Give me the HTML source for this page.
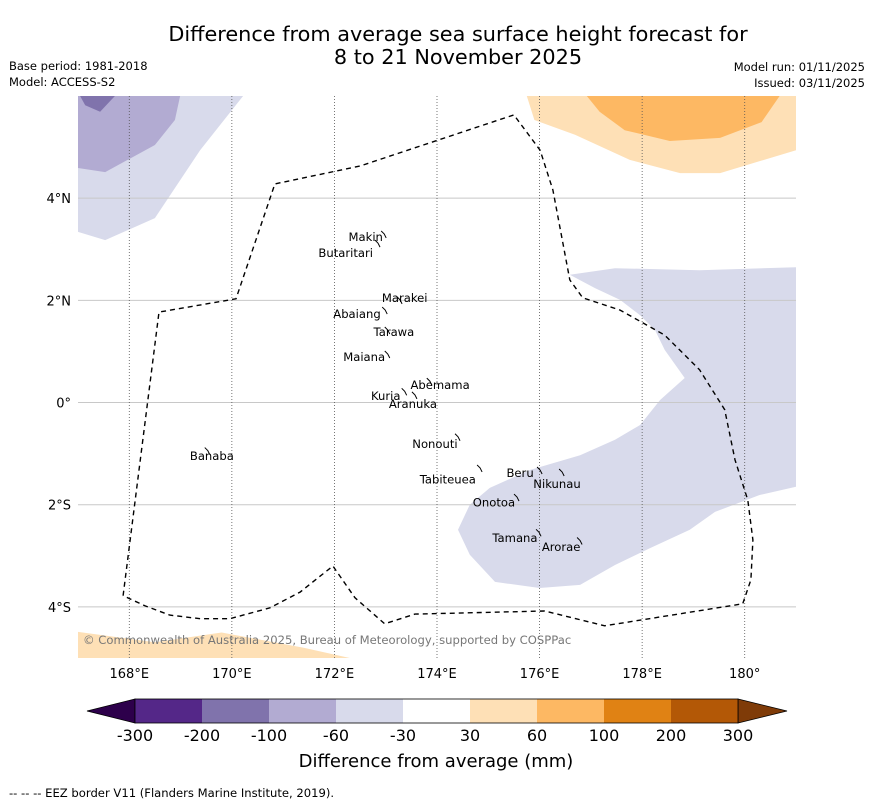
<!DOCTYPE html>
<html><head><meta charset="utf-8"><style>
body{margin:0;background:#fff;font-family:"Liberation Sans","DejaVu Sans",sans-serif}
svg text{font-family:"DejaVu Sans","Liberation Sans",sans-serif}
</style></head><body>
<svg id="chart" width="873" height="804" viewBox="0 0 873 804" xmlns="http://www.w3.org/2000/svg">
<text x="458" y="41" font-size="20.8" text-anchor="middle">Difference from average sea surface height forecast for</text>
<text x="458" y="64" font-size="20.8" text-anchor="middle">8 to 21 November 2025</text>
<text x="9" y="70" font-size="11.5">Base period: 1981-2018</text>
<text x="9" y="86" font-size="11.5">Model: ACCESS-S2</text>
<text x="865" y="71" font-size="11.5" text-anchor="end">Model run: 01/11/2025</text>
<text x="865" y="87" font-size="11.5" text-anchor="end">Issued: 03/11/2025</text>
<g id="map"></g>
<g id="cbar"></g>
<text x="436" y="767" font-size="18" text-anchor="middle">Difference from average (mm)</text>
<text x="9" y="797" font-size="11.6">--  --  -- EEZ border V11 (Flanders Marine Institute, 2019).</text>
</svg>
<script>
const lonTicks=[168,170,172,174,176,178,180];
const lonLabels=["168°E","170°E","172°E","174°E","176°E","178°E","180°"];
const latTicks=[4,2,0,-2,-4];
const latLabels=["4°N","2°N","0°","2°S","4°S"];
const levels=[-300,-200,-100,-60,-30,30,60,100,200,300];
const levelColors=["#542788","#8073ac","#b2abd2","#d8daeb","#ffffff","#fee0b6","#fdb863","#e08214","#b35806"];
const extendColors=["#2d004b","#7f3b08"];
const contourLevels=["-60..-30","-100..-60","-200..-100","30..60","60..100","-60..-30","30..60"];
const contourColors=["#d8daeb","#b2abd2","#8073ac","#fee0b6","#fdb863","#d8daeb","#fee0b6"];
const contourTL1=[[167,6],[170.22,6],[169.38,4.94],[168.5,3.61],[167.53,3.18],[167,3.34]];
const contourTL2=[[167,6],[168.99,6],[168.89,5.53],[168.5,5.04],[167.53,4.51],[167,4.59]];
const contourTL3=[[167.04,6],[167.72,6],[167.43,5.69],[167.14,5.82]];
const contourTR1=[[175.75,6],[181,6],[181,4.94],[179.52,4.49],[178.74,4.49],[177.76,4.75],[176.69,5.24],[175.9,5.53]];
const contourTR2=[[176.92,6],[180.68,6],[180.33,5.49],[179.52,5.18],[178.54,5.12],[177.66,5.33],[177.17,5.69]];
const contourR=[[176.59,2.5],[177.47,2.63],[179.12,2.59],[181,2.65],[181,-1.65],[180.29,-1.81],[179.42,-2.14],[178.93,-2.49],[178.15,-2.85],[177.47,-3.18],[176.79,-3.57],[176,-3.63],[175.13,-3.51],[174.64,-2.98],[174.41,-2.49],[174.64,-2],[175.03,-1.67],[175.81,-1.32],[176.79,-1.03],[177.47,-0.73],[177.96,-0.44],[178.35,0.05],[178.83,0.48],[178.44,1.03],[178.25,1.42],[177.96,1.71],[177.57,2.01],[177.08,2.24]];
const contourBL=[[167,-4.49],[168.5,-4.69],[169.8,-4.5],[171.4,-4.8],[172.3,-5],[167,-5]];
const eez=[[167.88,-3.78],[168.58,1.77],[170.08,2.03],[170.84,4.28],[172.5,4.63],[175.5,5.63],[176.01,4.94],[176.26,4.16],[176.59,2.4],[176.84,2.05],[177.57,1.81],[178.44,1.32],[179.12,0.64],[179.61,-0.14],[179.81,-1.12],[180.06,-1.91],[180.16,-2.69],[180.12,-3.47],[179.96,-3.94],[177.27,-4.37],[176.1,-4.08],[173.57,-4.14],[172.98,-4.33],[172.4,-3.82],[171.97,-3.2],[171.33,-3.71],[170.74,-4.02],[169.96,-4.23],[169.38,-4.23],[168.79,-4.16],[168.31,-3.98],[167.88,-3.78]];
const islandNames=["Makin","Butaritari","Marakei","Abaiang","Tarawa","Maiana","Abemama","Kuria","Aranuka","Nonouti","Tabiteuea","Beru","Nikunau","Onotoa","Tamana","Arorae","Banaba"];
const islandLon=[172.61,172.22,173.37,172.44,173.16,172.58,174.06,173.0,173.53,173.96,174.21,175.62,176.34,175.11,175.52,176.42,169.61];
const islandLat=[3.24,2.93,2.05,1.73,1.38,0.89,0.34,0.13,-0.03,-0.81,-1.51,-1.38,-1.59,-1.96,-2.65,-2.83,-1.05];
const coastLon=[172.97,172.85,173.28,172.99,173.04,173.04,173.86,173.37,173.57,174.41,174.84,176.01,176.44,175.56,175.99,176.79,169.53];
const coastLat=[3.30,3.12,2.01,1.81,1.42,0.95,0.42,0.22,0.15,-0.67,-1.28,-1.32,-1.36,-1.85,-2.54,-2.70,-0.94];

const NS="http://www.w3.org/2000/svg";
const X0=78,X1=796,Y0=96,Y1=658,LON0=167,LON1=181,LAT0=6,LAT1=-5;
const xs=lon=>X0+(lon-LON0)/(LON1-LON0)*(X1-X0);
const ys=lat=>Y0+(lat-LAT0)/(LAT1-LAT0)*(Y1-Y0);
function mk(tag,attrs,parent){const e=document.createElementNS(NS,tag);for(const k in attrs)e.setAttribute(k,attrs[k]);parent.appendChild(e);return e;}
const map=document.getElementById('map');
const defs=mk('defs',{},map);
const cp=mk('clipPath',{id:'clip'},defs);
mk('rect',{x:X0,y:Y0,width:X1-X0,height:Y1-Y0},cp);
const g=mk('g',{'clip-path':'url(#clip)'},map);
const pts=arr=>arr.map(p=>xs(p[0]).toFixed(1)+','+ys(p[1]).toFixed(1)).join(' ');
const contours=[contourTL1,contourTL2,contourTL3,contourTR1,contourTR2,contourR,contourBL];
contours.forEach((c,i)=>{
 const p=mk('polygon',{points:pts(c),fill:contourColors[i],stroke:'none'},g);
 
 
});
latTicks.forEach((t,i)=>{
 const l=mk('line',{x1:X0,x2:X1,y1:ys(t),y2:ys(t),stroke:'#c8c8c8','stroke-width':1},g);
 
 
 const tx=mk('text',{x:X0-7,y:ys(t)+5,'font-size':13,'text-anchor':'end'},map);
 tx.textContent=latLabels[i];
 
 
});
lonTicks.forEach((t,i)=>{
 const l=mk('line',{x1:xs(t),x2:xs(t),y1:Y0,y2:Y1,stroke:'#555','stroke-width':0.8,'stroke-dasharray':'1,2'},g);
 
 
 const tx=mk('text',{x:xs(t),y:Y1+20,'font-size':13,'text-anchor':'middle'},map);
 tx.textContent=lonLabels[i];
 
 
});
const ez=mk('polyline',{points:pts(eez),fill:'none',stroke:'#000','stroke-width':1.4,'stroke-dasharray':'5,4'},g);


coastLon.forEach((lo,i)=>{
 const x=xs(lo),y=ys(coastLat[i]);
 const c=mk('path',{d:`M${x-3},${y-3} L${x},${y} L${x+2},${y+4}`,fill:'none',stroke:'#000','stroke-width':1},g);
 
 
});
islandNames.forEach((n,i)=>{
 const t=mk('text',{x:xs(islandLon[i]),y:ys(islandLat[i])+4,'font-size':11.6,'text-anchor':'middle'},g);
 t.textContent=n;
 
 
});
const cr=mk('text',{x:83,y:644,'font-size':11.6,fill:'#777'},map);
cr.textContent='© Commonwealth of Australia 2025, Bureau of Meteorology, supported by COSPPac';



const cb=document.getElementById('cbar');
const CB0=135,CB1=738,CBY=699,CBH=24;
const n=levels.length-1,w=(CB1-CB0)/n;
const ext1=mk('polygon',{points:`87,${CBY+CBH/2} ${CB0},${CBY} ${CB0},${CBY+CBH}`,fill:extendColors[0],stroke:'#000','stroke-width':0.8},cb);


const ext2=mk('polygon',{points:`787,${CBY+CBH/2} ${CB1},${CBY} ${CB1},${CBY+CBH}`,fill:extendColors[1],stroke:'#000','stroke-width':0.8},cb);


levelColors.forEach((c,i)=>{
 const r=mk('rect',{x:CB0+i*w,y:CBY,width:w,height:CBH,fill:c},cb);
 
 
});
mk('rect',{x:CB0,y:CBY,width:CB1-CB0,height:CBH,fill:'none',stroke:'#000','stroke-width':0.8},cb);
levels.forEach((v,i)=>{
 const t=mk('text',{x:CB0+i*w,y:741,'font-size':16,'text-anchor':'middle'},cb);
 t.textContent=String(v);
 
 
});
</script>
</body></html>
